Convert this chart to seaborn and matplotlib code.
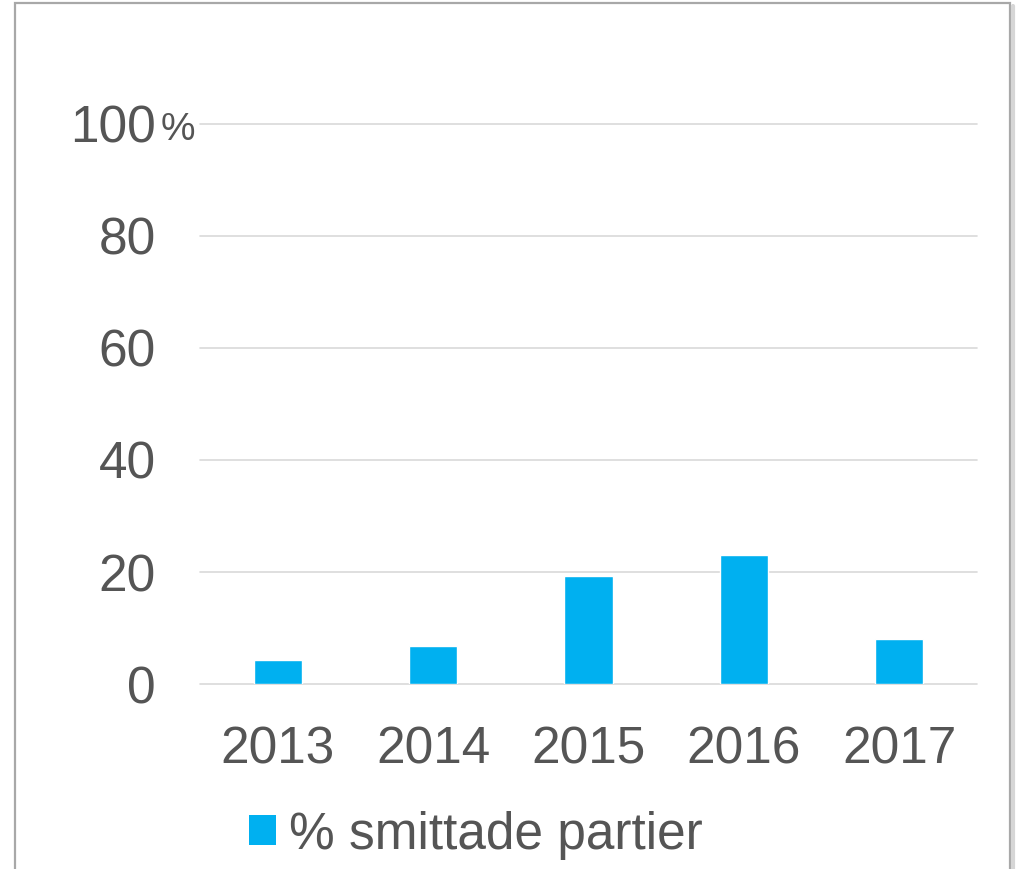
import matplotlib.pyplot as plt
import seaborn as sns
from matplotlib.patches import Patch, Rectangle
from matplotlib.lines import Line2D

years = ["2013", "2014", "2015", "2016", "2017"]
infected_pct = [4.2, 6.8, 19.2, 23.0, 8.0]
y_ticks = [0, 20, 40, 60, 80, 100]
series_label = "% smittade partier"

BAR_COLOR = "#00B0F0"
TEXT_COLOR = "#555555"
GRID_COLOR = "#d9d9d9"

sns.set_style("white")
plt.rcParams["font.family"] = ["Liberation Sans", "DejaVu Sans"]

fig = plt.figure(figsize=(10.17, 8.69), dpi=100)
ax = fig.add_axes([200 / 1017, 1 - 684 / 869, 777 / 1017, 560 / 869])

sns.barplot(x=years, y=infected_pct, color=BAR_COLOR, width=0.31,
            saturation=1, ax=ax, zorder=3)

ax.set_xlim(-0.5, len(years) - 0.5)
ax.set_ylim(0, 100)
ax.set_yticks(y_ticks)
ax.set_yticklabels([str(t) for t in y_ticks])
ax.yaxis.grid(True, color=GRID_COLOR, linewidth=1.2, zorder=0)
ax.set_axisbelow(True)
for g in ax.get_ygridlines():
    g.set_clip_on(False)
for s in ax.spines.values():
    s.set_visible(False)
ax.tick_params(axis="y", length=0, pad=32, labelsize=37, labelcolor=TEXT_COLOR)
ax.tick_params(axis="x", length=0, pad=30, labelsize=37, labelcolor=TEXT_COLOR)
ax.set_xlabel("")
ax.set_ylabel("")

# smaller percent sign after the top tick label
ax.annotate("%", xy=(0, 100), xycoords=("axes fraction", "data"),
            xytext=(-28, -11.5), textcoords="offset points",
            ha="left", va="baseline", fontsize=28, color=TEXT_COLOR,
            annotation_clip=False)

handle = Patch(facecolor=BAR_COLOR, edgecolor="none")
fig.legend([handle], [series_label], loc="center",
           bbox_to_anchor=(476 / 1017, 1 - 835 / 869),
           frameon=False, fontsize=37, labelcolor=TEXT_COLOR,
           handlelength=0.53, handleheight=0.53, handletextpad=0.25,
           borderpad=0, borderaxespad=0)

# chart frame
fig.add_artist(Rectangle((15 / 1017, -0.05), 995 / 1017, 1.05 - 3 / 869,
                         transform=fig.transFigure, fill=False,
                         edgecolor="#a8a8a8", linewidth=1.6))
fig.add_artist(Line2D([1013 / 1017, 1013 / 1017], [0, 1 - 6 / 869],
                      transform=fig.transFigure, color="#d6d6d6", linewidth=3))

fig.savefig("out.png", dpi=100)
